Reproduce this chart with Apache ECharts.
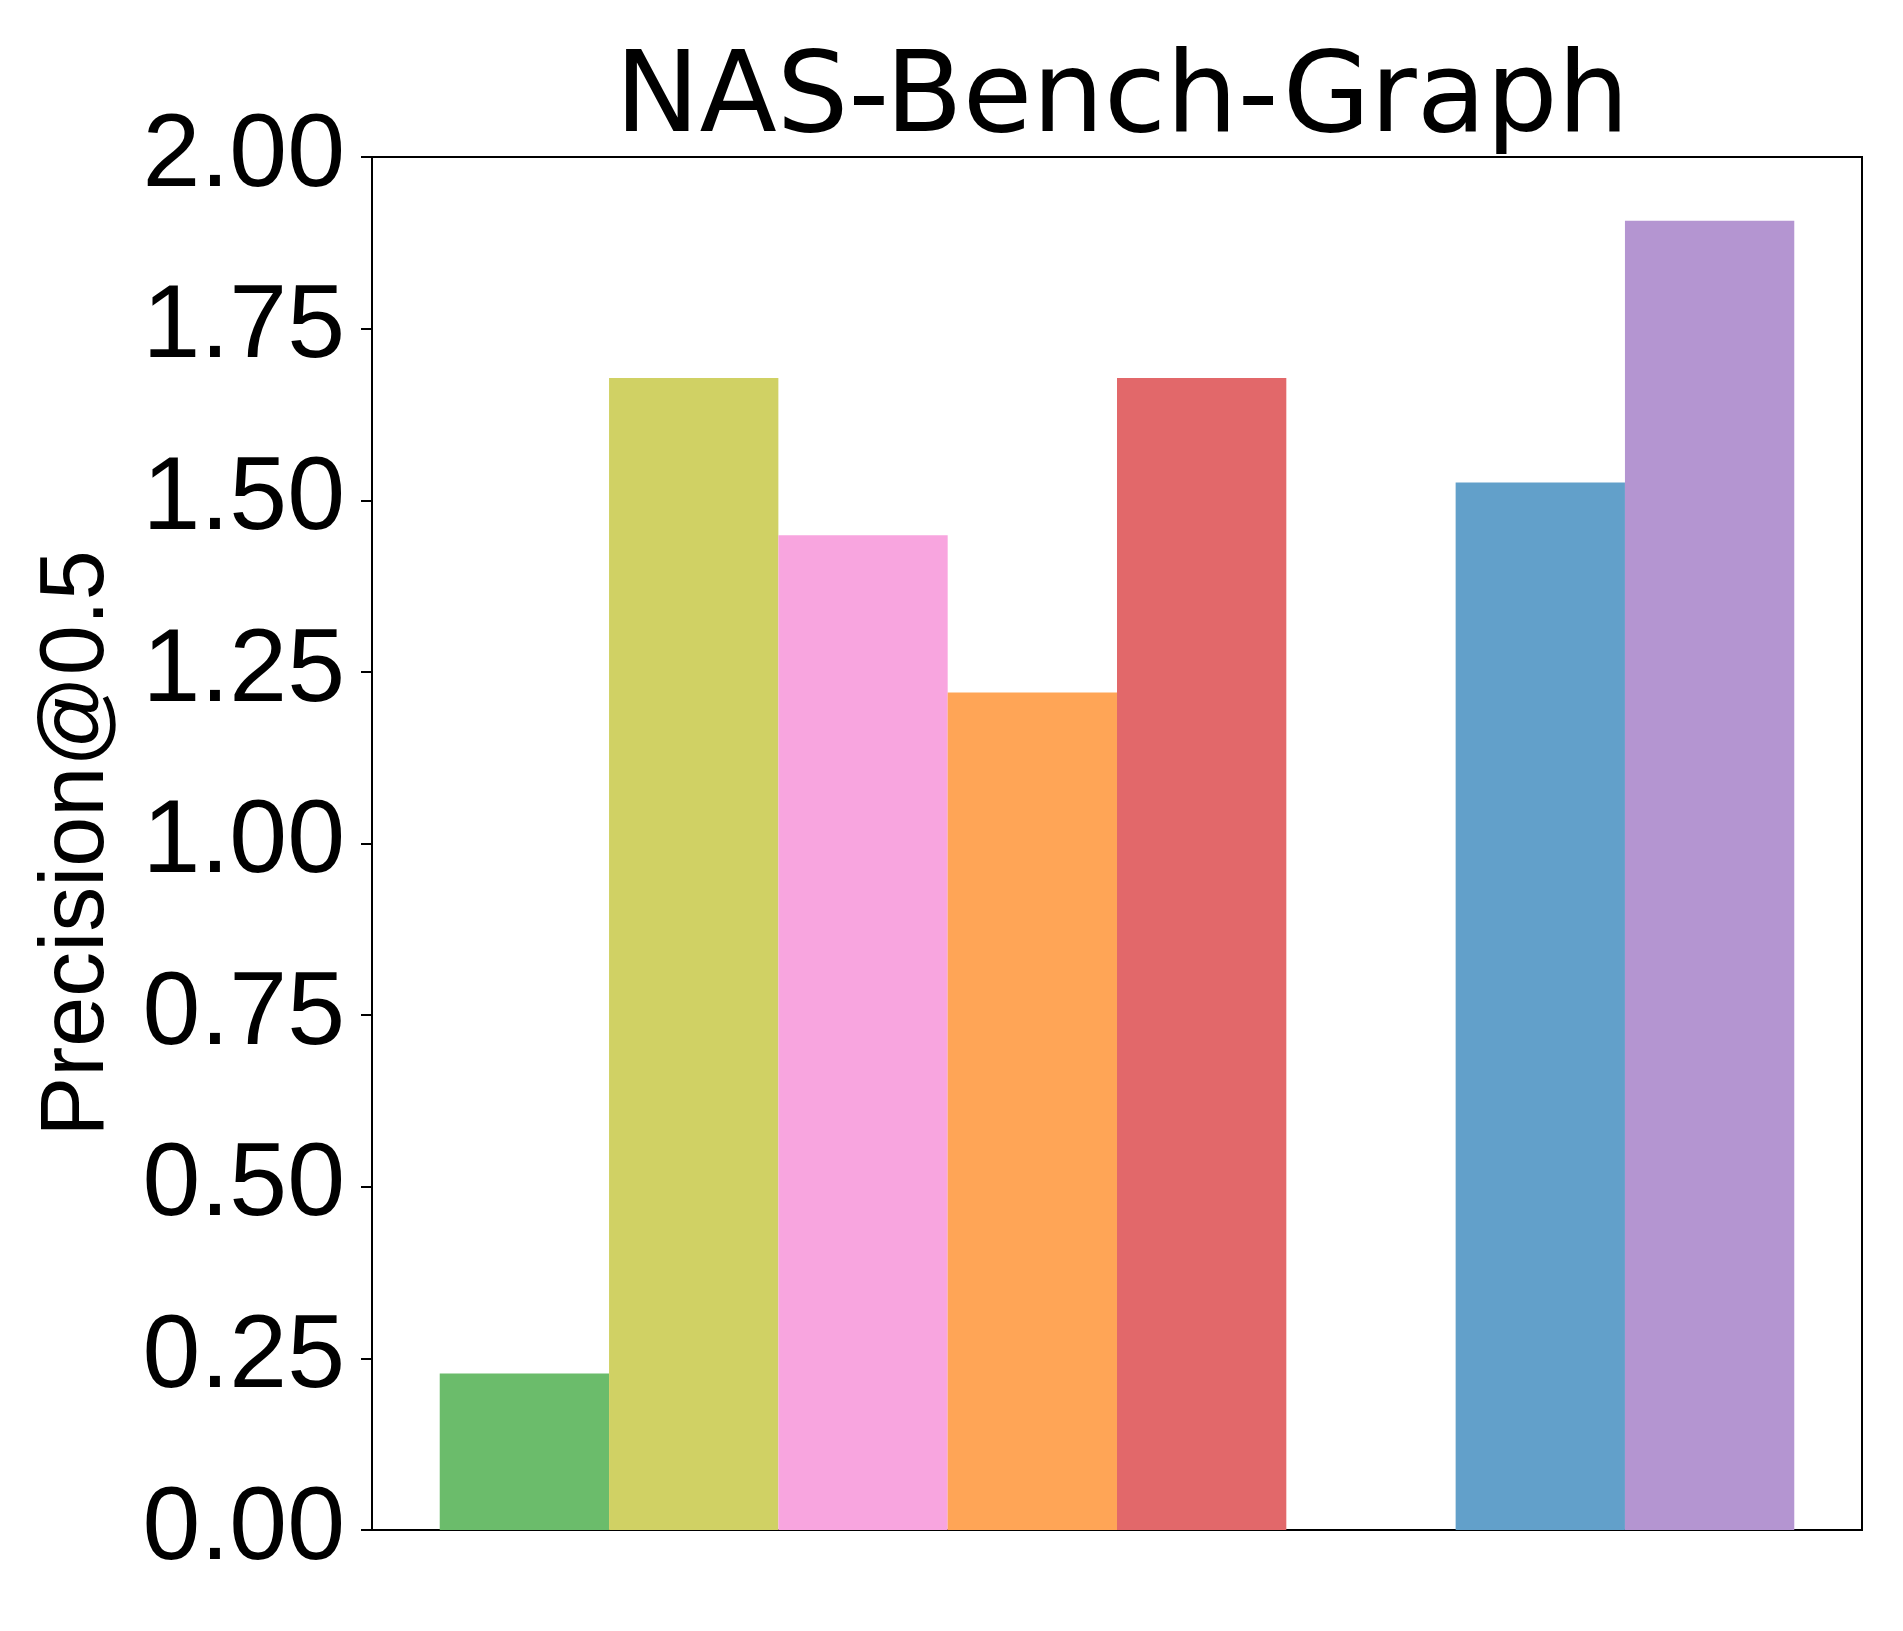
<!DOCTYPE html>
<html>
<head>
<meta charset="utf-8">
<script src="https://cdn.jsdelivr.net/npm/echarts@6/dist/echarts.min.js"></script>
<style>
html,body{margin:0;padding:0;background:#fff;}
#chart{width:1903px;height:1631px;}
</style>
</head>
<body>
<div id="chart"></div>
<script>
// ---- data ----
const titleText = "NAS-Bench-Graph";
const yLabel = "Precision@0.5";
const barPositions = [0, 1, 2, 3, 4, 6, 7];
const barValues = [0.228, 1.678, 1.449, 1.220, 1.678, 1.526, 1.907];
const barColors = ["#6bbc6b", "#d0d164", "#f8a5df", "#ffa556", "#e2686a", "#62a0ca", "#b495d1"];
const yMin = 0, yMax = 2, yStep = 0.25;
const xMin = -0.9, xMax = 7.9;

// ---- layout ----
const gridLeft = 372, gridTop = 157, gridWidth = 1490, gridHeight = 1373;
const barW = gridWidth / (xMax - xMin);

const chart = echarts.init(document.getElementById('chart'), null, {renderer: 'canvas'});
const option = {
  animation: false,
  backgroundColor: '#ffffff',
  title: {
    text: titleText,
    left: 610,
    top: 40,
    textStyle: {fontFamily: 'DejaVu Sans', fontSize: 113, fontWeight: 'normal', color: '#000', lineHeight: 113}
  },
  grid: {
    left: gridLeft, top: gridTop, width: gridWidth, height: gridHeight,
    show: true, borderColor: '#000', borderWidth: 2, backgroundColor: 'transparent'
  },
  xAxis: {
    type: 'value', min: xMin, max: xMax,
    axisLine: {show: true, onZero: false, lineStyle: {color: '#000', width: 2}},
    axisTick: {show: false}, axisLabel: {show: false}, splitLine: {show: false}
  },
  yAxis: {
    type: 'value', min: yMin, max: yMax, interval: yStep,
    name: yLabel, nameLocation: 'middle', nameGap: 249,
    nameTextStyle: {fontFamily: 'Liberation Sans', fontSize: 90, color: '#000', lineHeight: 90},
    axisLine: {show: true, onZero: false, lineStyle: {color: '#000', width: 2}},
    axisTick: {show: true, inside: false, length: 11, lineStyle: {color: '#000', width: 2}},
    axisLabel: {
      margin: 27, fontFamily: 'Liberation Sans', fontSize: 104, color: '#000',
      formatter: v => v.toFixed(2)
    },
    splitLine: {show: false}
  },
  series: [{
    type: 'bar',
    barWidth: barW,
    data: barPositions.map((x, i) => ({value: [x, barValues[i]], itemStyle: {color: barColors[i]}}))
  }]
};
chart.setOption(option);
</script>
</body>
</html>
